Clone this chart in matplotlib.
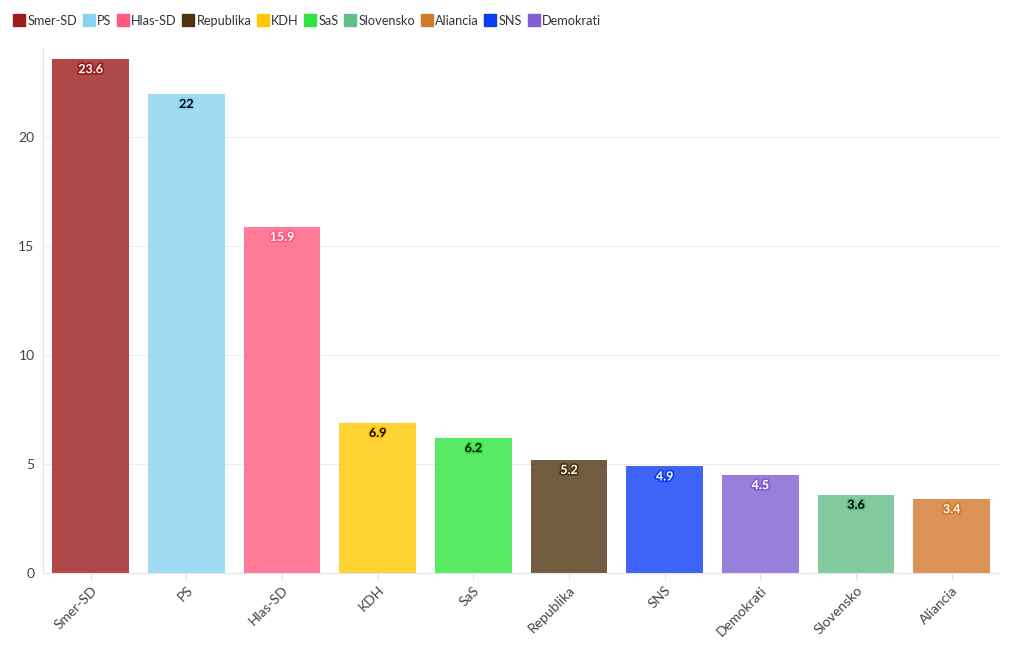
import matplotlib.pyplot as plt
import matplotlib.patheffects as pe
from matplotlib.lines import Line2D

plt.rcParams["font.family"] = ["Lato", "DejaVu Sans"]

# bar data, in plotted order
parties = ["Smer-SD", "PS", "Hlas-SD", "KDH", "SaS", "Republika",
           "SNS", "Demokrati", "Slovensko", "Aliancia"]
values = [23.6, 22, 15.9, 6.9, 6.2, 5.2, 4.9, 4.5, 3.6, 3.4]

party_colors = {
    "Smer-SD": "#9B1C1C",
    "PS": "#88D2F2",
    "Hlas-SD": "#FF5A7E",
    "Republika": "#4D3310",
    "KDH": "#FFC800",
    "SaS": "#2EE53F",
    "Slovensko": "#63BD86",
    "Aliancia": "#D27A2A",
    "SNS": "#0D3CF5",
    "Demokrati": "#7F5FD3",
}
label_dark = {"PS", "KDH", "SaS", "Slovensko"}

legend_order = ["Smer-SD", "PS", "Hlas-SD", "Republika", "KDH", "SaS",
                "Slovensko", "Aliancia", "SNS", "Demokrati"]

fig = plt.figure(figsize=(10.2, 6.5), dpi=100)
ax = fig.add_axes([0.042, 0.1185, 0.938, 0.8075])

x = range(len(parties))
colors = [party_colors[p] for p in parties]
ax.bar(x, values, width=0.8, color=colors, alpha=0.8, zorder=2)

for xi, v, p in zip(x, values, parties):
    txt_color = "black" if p in label_dark else "white"
    ax.annotate(f"{v:g}", (xi, v), xytext=(0, -3), textcoords="offset points",
                ha="center", va="top", fontsize=9, fontweight="bold",
                color=txt_color, zorder=3,
                path_effects=[pe.withStroke(linewidth=2.5,
                                            foreground=party_colors[p])])

ax.set_xlim(-0.5, len(parties) - 0.5)
ax.set_ylim(0, 24.1)
ax.set_yticks([0, 5, 10, 15, 20])
ax.set_xticks(list(x))
ax.set_xticklabels(parties, rotation=45, ha="right", rotation_mode="anchor")
ax.tick_params(axis="both", labelsize=10, colors="#444444", length=0, pad=6)
ax.tick_params(axis="x", length=4, color="#dddddd", pad=4)
ax.grid(axis="y", color="#eeeeee", linewidth=0.8, zorder=0)
for side in ["top", "right"]:
    ax.spines[side].set_visible(False)
for side in ["left", "bottom"]:
    ax.spines[side].set_color("#e6e6e6")

# legend along the top
handles = [Line2D([0], [0], marker="s", linestyle="none", markersize=9,
                  markerfacecolor=party_colors[p], markeredgecolor=party_colors[p])
           for p in legend_order]
fig.legend(handles, legend_order, loc="upper left", bbox_to_anchor=(0.003, 0.995),
           ncol=len(legend_order), frameon=False, fontsize=9.2,
           handlelength=0.7, handletextpad=0.3, columnspacing=0.55,
           labelcolor="#333333")

fig.savefig("out.png", dpi=100)
